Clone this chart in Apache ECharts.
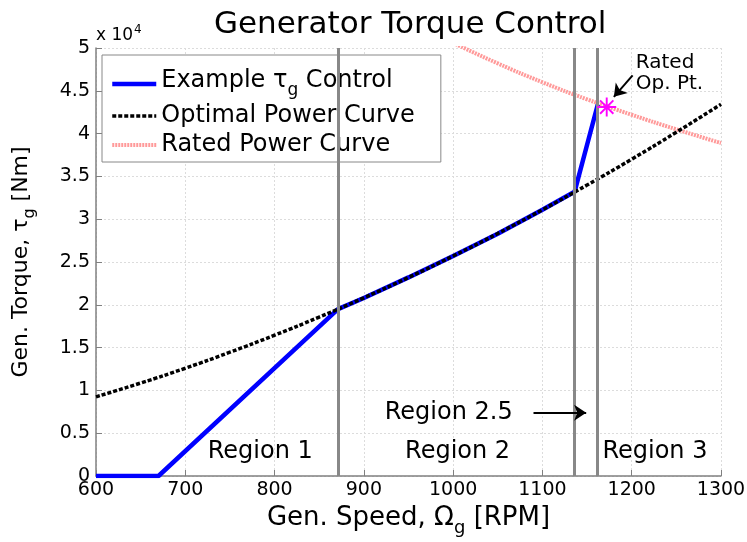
<!DOCTYPE html>
<html>
<head>
<meta charset="utf-8">
<script src="https://cdn.jsdelivr.net/npm/echarts@6/dist/echarts.min.js"></script>
<style>
html, body { margin: 0; padding: 0; background: #fff; }
#chart { width: 747px; height: 542px; }
</style>
</head>
<body>
<div id="chart"></div>
<script>
// torque values are in units of 1e4 Nm (axis shows "x 10^4")
const optimalSpeed = [600, 650, 700, 750, 800, 850, 900, 950, 1000, 1050, 1100, 1150, 1200, 1250, 1300]
const optimalTorque = [0.925, 1.086, 1.259, 1.446, 1.645, 1.857, 2.082, 2.319, 2.57, 2.833, 3.11, 3.399, 3.701, 4.016, 4.343]

const controlSpeed = [600, 670, 871, 900, 950, 1000, 1050, 1100, 1136, 1162]
const controlTorque = [0, 0, 1.95, 2.08, 2.32, 2.57, 2.83, 3.11, 3.32, 4.34]

const ratedSpeed = [1000, 1050, 1100, 1150, 1200, 1250, 1300]
const ratedTorque = [5.06, 4.82, 4.6, 4.4, 4.22, 4.05, 3.89]

// region boundaries (vertical gray lines)
const regionBounds = [871, 1136, 1161]
const ratedPoint = [1172, 4.31]

// text notes: [speed, torque, text]
const regionNotes = [
    [784, 0.28, 'Region 1'],
    [1005, 0.28, 'Region 2'],
    [1226, 0.28, 'Region 3'],
    [995, 0.74, 'Region 2.5'],
]
const ratedNote = [1204, 4.71, 'Rated\nOp. Pt.']
const arrows = [
    [[1090, 0.74], [1149, 0.74]],
    [[1201, 4.68], [1180, 4.43]],
]

const FONT = 'DejaVu Sans'
const pairs = (xs, ys) => xs.map((x, i) => [x, ys[i]])

// 星号 marker (same winding on every arm)
const ASTERISK = 'path://M9 0H11V20H9Z M0 9H20V11H0Z M3.71 2.29L17.71 16.29L16.29 17.71L2.29 3.71Z M16.29 2.29L17.71 3.71L3.71 17.71L2.29 16.29Z'

const legendRich = {
    n: { fontSize: 24, fontFamily: FONT, color: '#000', verticalAlign: 'top' },
    s: { fontSize: 17, fontFamily: FONT, color: '#000', verticalAlign: 'bottom', padding: [13, 0, 0, 0] },
}
const xNameRich = {
    n: { fontSize: 26, fontFamily: FONT, color: '#000', verticalAlign: 'top' },
    s: { fontSize: 18, fontFamily: FONT, color: '#000', verticalAlign: 'bottom', padding: [14, 0, 0, 0] },
}

const chart = echarts.init(document.getElementById('chart'))

const option = {
    animation: false,
    backgroundColor: '#fff',
    title: {
        text: 'Generator Torque Control',
        left: 209,
        top: 4,
        textStyle: { fontFamily: FONT, fontSize: 31, fontWeight: 'normal', color: '#000' },
    },
    grid: { left: 96, right: 26, top: 48, bottom: 66, outerBoundsMode: 'none' },
    legend: {
        data: ['Example control', 'Optimal Power Curve', 'Rated Power Curve'],
        orient: 'vertical',
        left: 102,
        top: 55,
        itemWidth: 44,
        itemHeight: 14,
        itemGap: 5,
        padding: [14, 26, 5, 8],
        backgroundColor: '#fff',
        borderColor: '#888',
        borderWidth: 1,
        borderRadius: 0,
        itemStyle: { opacity: 0 },
        lineStyle: { width: 'inherit' },
        textStyle: { fontFamily: FONT, fontSize: 24, color: '#000', rich: legendRich },
        formatter(name) {
            if (name === 'Example control') {
                return '{n|Example τ}{s|g}{n| Control}'
            }
            return name
        },
    },
    graphic: [
        {
            type: 'text',
            left: 96,
            top: 24,
            style: {
                text: '{a|x 10}{b|4}',
                rich: {
                    a: { fontSize: 17, fontFamily: FONT, fill: '#000', verticalAlign: 'bottom' },
                    b: { fontSize: 12, fontFamily: FONT, fill: '#000', verticalAlign: 'top', padding: [0, 0, 8, 1] },
                },
            },
        },
    ],
    xAxis: {
        type: 'value',
        min: 600,
        max: 1300,
        interval: 100,
        name: '{n|Gen. Speed, Ω}{s|g}{n| [RPM]}',
        nameLocation: 'middle',
        nameGap: 25,
        nameTextStyle: { rich: xNameRich },
        axisLine: { show: true, lineStyle: { color: '#808080', width: 1.5 } },
        axisTick: { show: true, inside: true, length: 6, lineStyle: { color: '#808080' } },
        axisLabel: { fontFamily: FONT, fontSize: 19, color: '#000', margin: 5, formatter: v => String(v) },
        splitLine: { show: true, lineStyle: { color: '#dcdcdc', type: [2, 2] } },
    },
    yAxis: {
        type: 'value',
        min: 0,
        max: 5,
        interval: 0.5,
        name: '{n|Gen. Torque, τ}{s|g}{n| [Nm]}',
        nameLocation: 'middle',
        nameGap: 58,
        nameRotate: 90,
        nameTextStyle: {
            rich: {
                n: { fontSize: 22, fontFamily: FONT, color: '#000', verticalAlign: 'top' },
                s: { fontSize: 16, fontFamily: FONT, color: '#000', verticalAlign: 'bottom', padding: [12, 0, 0, 0] },
            },
        },
        axisLine: { show: true, lineStyle: { color: '#808080', width: 1.5 } },
        axisTick: { show: true, inside: true, length: 6, lineStyle: { color: '#808080' } },
        axisLabel: { fontFamily: FONT, fontSize: 19, color: '#000', margin: 6 },
        splitLine: { show: true, lineStyle: { color: '#dcdcdc', type: [2, 2] } },
    },
    series: [
        {
            name: 'bounds',
            type: 'line',
            data: [],
            z: 1,
            markLine: {
                silent: true,
                symbol: 'none',
                label: { show: false },
                lineStyle: { color: '#888', width: 3, type: 'solid' },
                data: regionBounds.map(v => ({ xAxis: v })),
            },
        },
        {
            name: 'Rated Power Curve',
            type: 'line',
            data: pairs(ratedSpeed, ratedTorque),
            smooth: true,
            symbol: 'none',
            z: 2,
            lineStyle: { color: '#ff9a9a', width: 4, type: [2, 1] },
            itemStyle: { color: '#ff9a9a' },
        },
        {
            name: 'Example control',
            type: 'line',
            data: pairs(controlSpeed, controlTorque),
            symbol: 'none',
            z: 3,
            lineStyle: { color: '#0000ff', width: 4.5 },
            itemStyle: { color: '#0000ff' },
        },
        {
            name: 'Optimal Power Curve',
            type: 'line',
            data: pairs(optimalSpeed, optimalTorque),
            smooth: true,
            symbol: 'none',
            z: 4,
            lineStyle: { color: '#000', width: 3.5, type: [4, 2] },
            itemStyle: { color: '#000' },
        },
        {
            name: 'rated point',
            type: 'scatter',
            data: [ratedPoint],
            symbol: ASTERISK,
            symbolSize: 19,
            z: 5,
            itemStyle: { color: '#ff00ff', opacity: 1 },
        },
        {
            name: 'notes',
            type: 'scatter',
            symbolSize: 1,
            z: 6,
            itemStyle: { color: 'transparent', opacity: 1 },
            label: {
                show: true,
                position: 'inside',
                formatter: p => p.value[2],
                fontFamily: FONT,
                fontSize: 24,
                color: '#000',
            },
            data: [
                ...regionNotes,
                {
                    value: ratedNote,
                    label: { position: 'right', distance: 0, fontSize: 20, lineHeight: 21 },
                },
            ],
            markLine: {
                silent: true,
                symbol: ['none', 'arrow'],
                symbolSize: 12,
                label: { show: false },
                itemStyle: { color: '#000' },
                lineStyle: { color: '#000', width: 2, type: 'solid', opacity: 1 },
                data: arrows.map(a => [{ coord: a[0] }, { coord: a[1] }]),
            },
        },
    ],
}

chart.setOption(option)
</script>
</body>
</html>
